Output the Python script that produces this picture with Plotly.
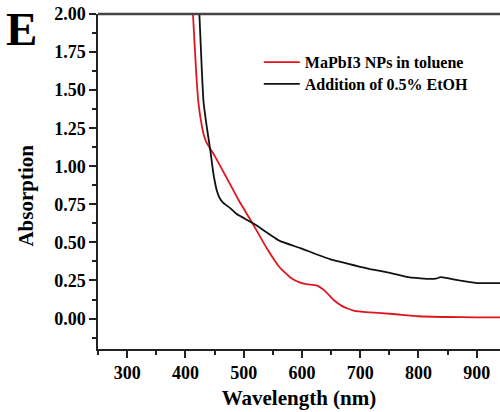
import plotly.graph_objects as go

# Data
wl_red = [400, 408, 413, 418, 422, 428, 432, 437, 450, 470, 491, 516, 540, 562, 580,
          597, 610, 625, 640, 655, 670, 690, 717, 756, 800, 850, 900, 940]
abs_red = [3.0, 2.4, 2.0, 1.65, 1.43, 1.27, 1.20, 1.15, 1.07, 0.93, 0.78, 0.62, 0.46,
           0.335, 0.27, 0.236, 0.225, 0.218, 0.18, 0.12, 0.08, 0.05, 0.04, 0.03, 0.015,
           0.01, 0.008, 0.008]

wl_black = [412, 420, 424, 428, 431, 437, 443, 447, 450, 454, 459, 465, 477, 488, 517, 562, 597,
            648, 700, 717, 751, 785, 820, 830, 838, 850, 870, 900, 940]
abs_black = [3.0, 2.3, 2.0, 1.65, 1.43, 1.25, 1.10, 0.98, 0.91, 0.84, 0.79, 0.76, 0.725, 0.686,
             0.624, 0.51, 0.463, 0.39, 0.34, 0.325, 0.30, 0.27, 0.26, 0.262, 0.272, 0.265,
             0.25, 0.233, 0.233]

names = ["MaPbI3 NPs in toluene", "Addition of 0.5% EtOH"]
x_ticks = [300, 400, 500, 600, 700, 800, 900]
y_ticks = [0.0, 0.25, 0.5, 0.75, 1.0, 1.25, 1.5, 1.75, 2.0]

FONT = "Liberation Serif"
legfont = dict(family=FONT, size=16, color="black", weight="bold")

fig = go.Figure()
fig.add_trace(go.Scatter(x=wl_red, y=abs_red, mode="lines", name=names[0], legend="legend",
                         line=dict(color="#e0161e", width=1.8, shape="spline", smoothing=0.4)))
fig.add_trace(go.Scatter(x=wl_black, y=abs_black, mode="lines", name=names[1], legend="legend2",
                         line=dict(color="#111111", width=1.8, shape="spline", smoothing=0.4)))

fig.update_layout(
    width=500, height=412,
    margin=dict(l=98, r=0, t=14, b=63),
    plot_bgcolor="white", paper_bgcolor="white",
    font=dict(family=FONT, color="black"),
    showlegend=True,
    legend=dict(x=0.40, y=0.907, xanchor="left", yanchor="top",
                bgcolor="rgba(0,0,0,0)", borderwidth=0, font=legfont, itemwidth=36),
    legend2=dict(x=0.40, y=0.842, xanchor="left", yanchor="top",
                 bgcolor="rgba(0,0,0,0)", borderwidth=0, font=legfont, itemwidth=36),
    xaxis=dict(range=[250, 940], tickvals=x_ticks, ticks="outside", ticklen=7, tickwidth=1.5,
               tickcolor="#222", showline=True, linecolor="#222", linewidth=1.5,
               showgrid=False, zeroline=False,
               tickfont=dict(family=FONT, size=18, weight="bold"),
               minor=dict(dtick=50, tick0=250, ticks="outside", ticklen=4, tickwidth=1.5,
                          tickcolor="#222", showgrid=False),
               title=dict(text="Wavelength (nm)", font=dict(family=FONT, size=21, weight="bold"),
                          standoff=8)),
    yaxis=dict(range=[-0.2, 2.0], tickvals=y_ticks, ticktext=[f"{v:.2f}" for v in y_ticks],
               ticks="outside", ticklen=7, tickwidth=1.5,
               tickcolor="#222", showline=True, linecolor="#222", linewidth=1.5,
               showgrid=False, zeroline=False,
               tickfont=dict(family=FONT, size=18, weight="bold")),
    shapes=[dict(type="line", xref="paper", yref="paper", x0=0, x1=1, y0=1, y1=1,
                 line=dict(color="#444", width=2.5))],
    annotations=[
        dict(text="E", xref="paper", yref="paper", x=-0.233, y=0.955,
             xanchor="left", yanchor="middle", showarrow=False,
             font=dict(family=FONT, size=47, weight="bold", color="black")),
        dict(text="Absorption", xref="paper", yref="paper", x=-0.179, y=0.458,
             xanchor="center", yanchor="middle", showarrow=False, textangle=-90,
             font=dict(family=FONT, size=21, weight="bold", color="black")),
    ],
)
fig.update_yaxes(minor=dict(dtick=0.125, tick0=0, ticks="outside", ticklen=4, tickwidth=1.5,
                            tickcolor="#222", showgrid=False))

fig.write_html("out.html")
